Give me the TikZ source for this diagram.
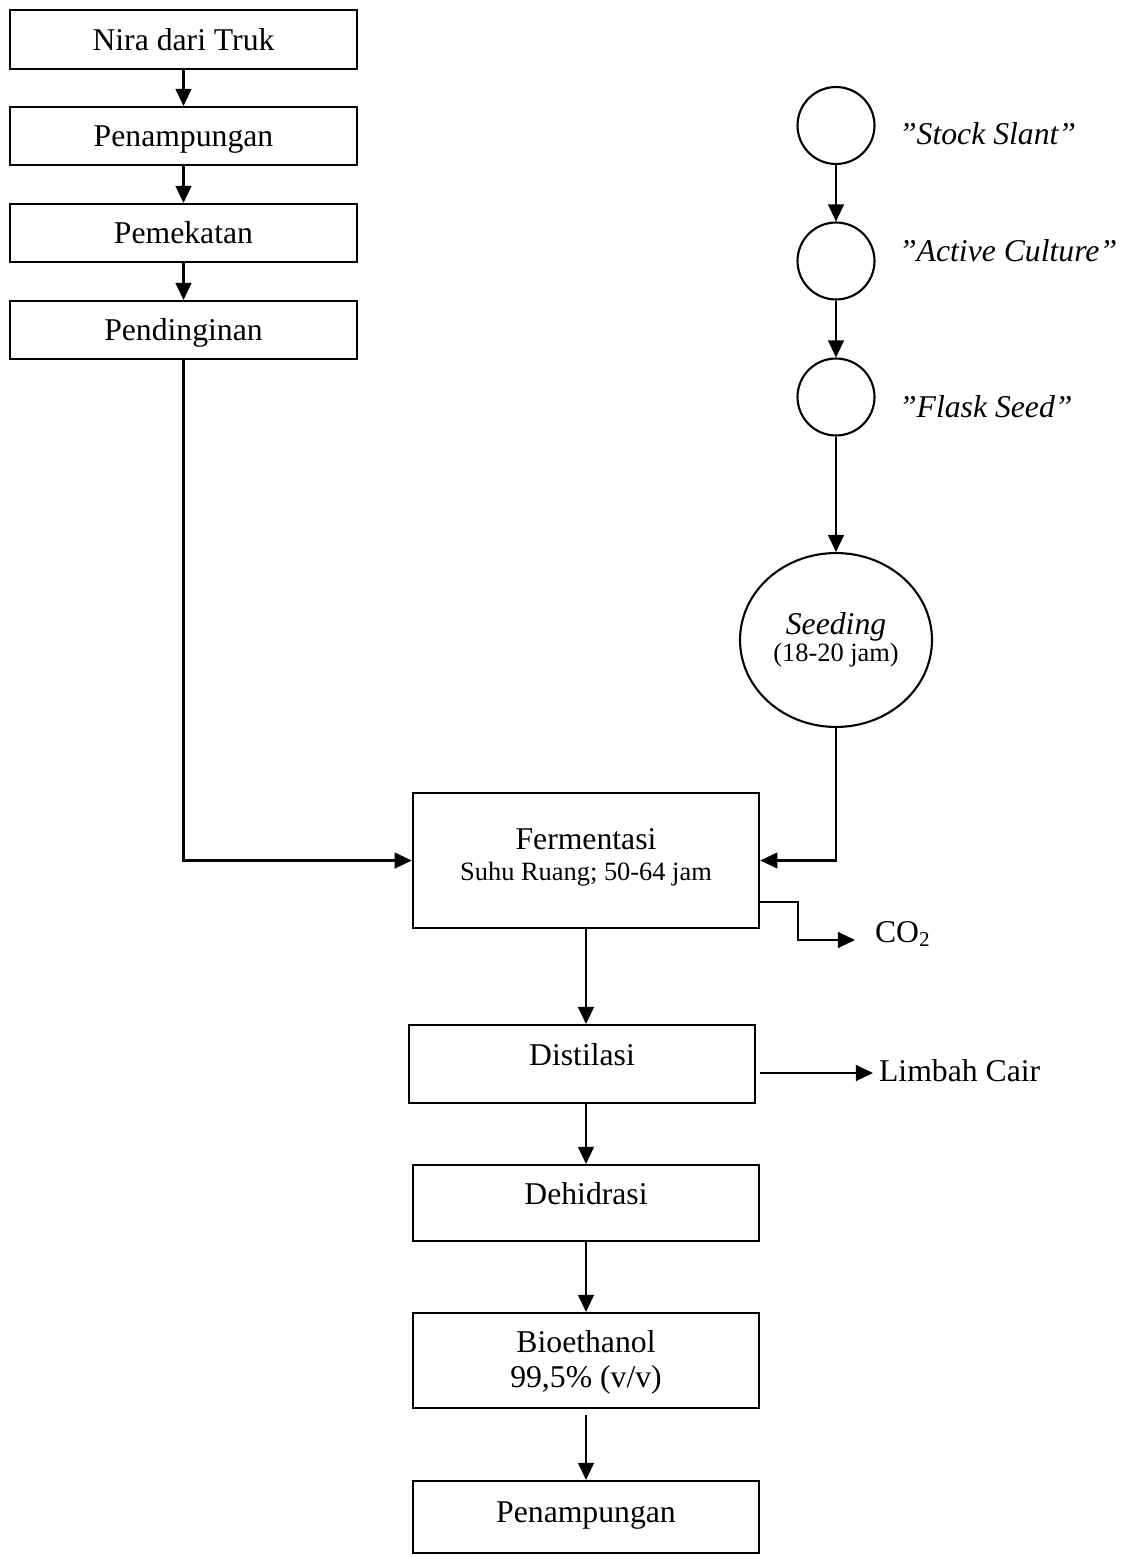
\documentclass[tikz,border=0pt]{standalone}
\usepackage{fontspec}
\setmainfont{Liberation Serif}
\usepackage{tikz}
\usetikzlibrary{arrows.meta}
\usetikzlibrary{positioning}
\usetikzlibrary{shapes.geometric}

\newcommand{\keterangan}[1]{{\fontsize{10}{12}\selectfont #1}}

\begin{document}
\begin{tikzpicture}
		[
		x=0.0133cm, y=-0.0133cm,
		font=\fontsize{12}{14}\selectfont,
		line width=0.8pt,
		>={Triangle[length=6.5pt,width=6pt]}
		]
		
		% Node styles: process boxes, culture circles, side labels
		\tikzstyle{proses node}=[draw,rectangle,inner sep=0pt,minimum width=4.61cm,text width=4.4cm,align=flush center,text height=9pt,text depth=1pt];
		\tikzstyle{kultur node}=[draw,circle,inner sep=0pt,minimum size=1.024cm];
		\tikzstyle{seeding node}=[draw,ellipse,inner sep=0pt,minimum width=2.554cm,minimum height=2.314cm,text width=1.75cm,align=flush center,text height=9pt,text depth=12.8pt];
		\tikzstyle{label node}=[anchor=base west,inner sep=0pt];
		
		\useasboundingbox (0,0) rectangle (1122,1557);
		
		% Nira (left column)
		\node(nira)[proses node,minimum height=0.785cm]at(183.5,39.5){Nira dari Truk};
		\node(tampung)[proses node,minimum height=0.771cm]at(183.5,136){Penampungan};
		\node(pekat)[proses node,minimum height=0.771cm]at(183.5,233){Pemekatan};
		\node(dingin)[proses node,minimum height=0.771cm]at(183.5,330){Pendinginan};
		
		% Yeast culture (right column)
		\node(stock)[kultur node]at(836,125.5){};
		\node(active)[kultur node]at(836,261){};
		\node(flask)[kultur node]at(836,397){};
		\node(seeding)[seeding node]at(836,640){\textit{Seeding}\\[-3.8pt]\keterangan{(18-20 jam)}};
		
		% Names of the cultures
		\node(lblstock)[label node]at(898,145){\textit{”Stock Slant”}};
		\node(lblactive)[label node]at(898,262){\textit{”Active Culture”}};
		\node(lblflask)[label node]at(898,417){\textit{”Flask Seed”}};
		
		% Main process
		\node(ferm)[proses node,minimum height=1.796cm,text depth=17pt]at(586,860.5){Fermentasi\\[-2.3pt]\keterangan{Suhu Ruang; 50-64 jam}};
		\node(dist)[proses node,minimum height=1.037cm,text depth=8pt]at(582,1064){Distilasi};
		\node(dehid)[proses node,minimum height=1.011cm,text depth=7.5pt]at(586,1203){Dehidrasi};
		\node(bio)[proses node,minimum height=1.264cm,text depth=15.4pt]at(586,1360.5){Bioethanol\\[-0.7pt]99,5\% (v/v)};
		\node(tampung2)[proses node,minimum height=0.958cm,text depth=5.2pt]at(586,1517){Penampungan};
		
		% By-products
		\node(co2)[label node,inner xsep=7.2pt]at(855,942){CO\textsubscript{2}};
		\node(limbah)[label node,inner xsep=1.9pt]at(873,1081){Limbah Cair};
		
		% Arrows
		\foreach \a/\b in {nira/tampung, tampung/pekat, pekat/dingin, stock/active, active/flask, flask/seeding}
			\draw[->](\a)--(\b);
		\draw[->](dingin)|-(ferm);
		\draw[->](seeding)|-(ferm);
		\draw[->](ferm.south)--(ferm.south |- dist.north);
		\draw[->](dehid.north |- dist.south)--(dehid.north);
		\draw[->](dehid)--(bio);
		\draw[->,shorten <=2.3pt](bio)--(tampung2);
		\draw[->](ferm.east |- 0,902)-|(798,940)--(co2.west |- 0,940);
		\draw[->,shorten <=1.5pt](dist.east |- 0,1073)--(limbah.west |- 0,1073);
		\end{tikzpicture}
\end{document}
